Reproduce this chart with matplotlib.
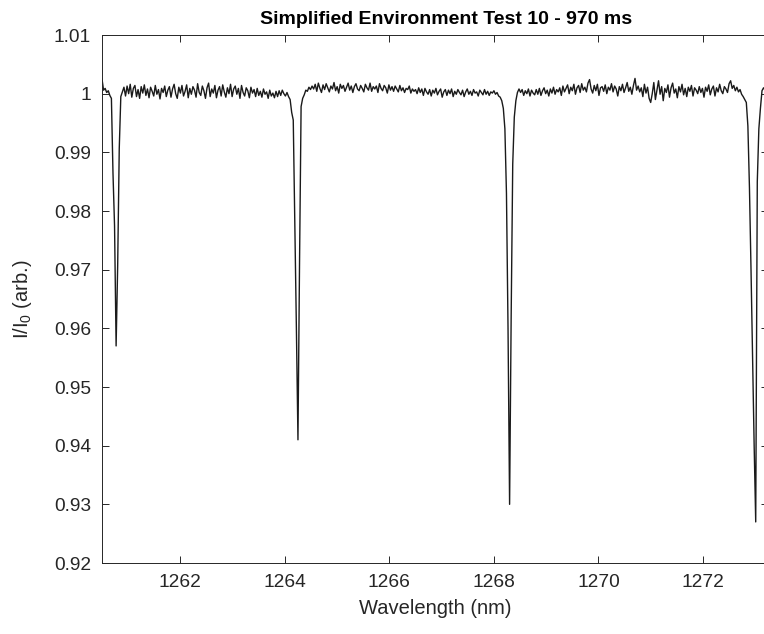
import numpy as np
import matplotlib
matplotlib.use("Agg")
import matplotlib.pyplot as plt
from matplotlib.ticker import FuncFormatter

# transmission I/I0, in units of 1e-4 away from 1
# sample grid: 1260.47 nm + 0.03 nm steps
wl_start = 1260.47
wl_step = 0.03

start_dip1 = [28, 25, 6, 9, 2, 5, -3, -8, -135, -225, -430, -293, -94, -5]

base_a = [3, 11, -4, 13, 0, 16, -6, 9, 14, -5,
          7, -8, 12, 1, 15, -3, 8, -7, 11, 4,
          -4, 14, -1, 7, -9, 9, 2, 13, -5, 6,
          12, -6, 8, 16, 0, -8, 11, 1, 14, -4,
          4, 15, -7, 9, -1, 12, 6, -6, 17, 2,
          -3, 13, 5, -8, 10, 18, -5, 8, 1, 14,
          -7, 6, 12, -4, 15, 3, -6, 10, 0, 16,
          -5, 8, 13, -1, 9, -8, 14, 2, -4, 10,
          5, -7, 11, 1, 7, -5, 9, -3, 4, -6,
          8, -1, 3, -8, 6, -4, 1, -7, 4, -5,
          5, -3, 6, 0, -4, 2, -5, -10]

dip2 = [-32, -45, -220, -400, -590, -290, -22, -8]

base_b = [-2, 6, 4, 11, 7, 13,
          8, 16, 4, 18, 9, 2, 15, 7, 17, 10,
          3, 13, 8, 19, 5, 12, 1, 16, 9, 14,
          4, 11, 18, 6, 13, 2, 12, 17, 8, 5,
          14, 9, 3, 16, 10, 6, 18, 4, 12, 8,
          13, 2, 17, 9, 5, 14, 10, 1, 15, 6,
          12, 4, 13, 8, 3, 14, 5, 10, 2, 9,
          7, 13, 1, 8, 4,
          7, 0, 10, 2, 8, -3, 9, 3, -1, 7,
          -4, 6, 1, 9, -2, 4, 8, -6, 3, 7,
          -3, 6, 0, 8, -5, 4, -1, 7, 2, -2,
          6, -5, 3, 8, -1, 4, -3, 7, 1, 3,
          -4, 6, 2, -2, 7, -1, 4, -3, 3, 1,
          5, -1, 2, -4, -6]

dip3 = [-12, -25, -60, -170, -400, -700, -380, -120, -40, -12, 2]

base_c = [8, 2, 7, -3, 5, 0, 8, -4, 6, 1,
          -2, 7, -1, 9, -3, 5, 10, 0, 6, -4,
          8, 1, 11, -1, 7, 3,
          10, -3, 13, 3, 9, 15, 0, 11, 5, 16,
          -1, 10, 14, 2, 17, 6, 11, 3, 18, 24,
          8, 1, 14, 5, 16, -3, 10, 12, 4, 15,
          0, 11, 6, 17, 3, 13, 8, -4, 12, 5,
          16, 2, 10, 19, 4, 11, -1, 14, 26, 6,
          13,
          3, 10, -5, 16, 1, 11, -8, -15, 0, 19,
          -10, 6, 22, -1, 12, -12, 9, 2, 15, -6,
          10, 18, 1, 8, -7, 12, 3, 16, -2, 9,
          -5, 11, 4, 14, -4, 10, 6, 0,
          12, 2, 9, -6, 11, 4, 15, -2, 8, 13,
          -4, 10, 3, 16, 5, 0, 12, 8, 2, 17,
          22, 9, 14, 5, 11, 3, 7, -1, -5, -10]

dip4 = [-15, -55, -160, -300, -450, -600, -730, -150, -60, -25, 5, 10, 6]

dev = np.array(start_dip1 + base_a + dip2 + base_b + dip3 + base_c + dip4)
ratio = 1 + dev * 1e-4
wl = wl_start + wl_step * np.arange(len(dev))

plt.rcParams['font.family'] = ['Liberation Sans', 'DejaVu Sans']
plt.rcParams['mathtext.default'] = 'regular'
dark = '#262626'

fig = plt.figure(figsize=(7.64, 6.34), dpi=100)
ax = fig.add_axes([102 / 764, 1 - 563 / 634, 666 / 764, 528 / 634])

ax.plot(wl, ratio, color='#1a1a1a', lw=1.0)

ax.set_xlim(1260.5, 1273.245)
ax.set_ylim(0.92, 1.01)
ax.set_xticks(np.arange(1262, 1273, 2))
ax.set_yticks(np.arange(0.92, 1.0101, 0.01))
ax.yaxis.set_major_formatter(FuncFormatter(lambda v, p: '%g' % round(v, 2)))

ax.tick_params(direction='in', length=5, width=0.7, colors=dark,
               labelsize=13.8, top=True, right=True, pad=8)
for s in ax.spines.values():
    s.set_color(dark)
    s.set_linewidth(0.7)

ax.set_xlabel('Wavelength (nm)', fontsize=14.5, color=dark, labelpad=6)
ax.set_ylabel('I/I$_0$ (arb.)', fontsize=14.5, color=dark, labelpad=14)
ax.set_title('Simplified Environment Test 10 - 970 ms', fontsize=14,
             fontweight='bold', x=0.517, pad=8)

fig.savefig('out.png', dpi=100)
